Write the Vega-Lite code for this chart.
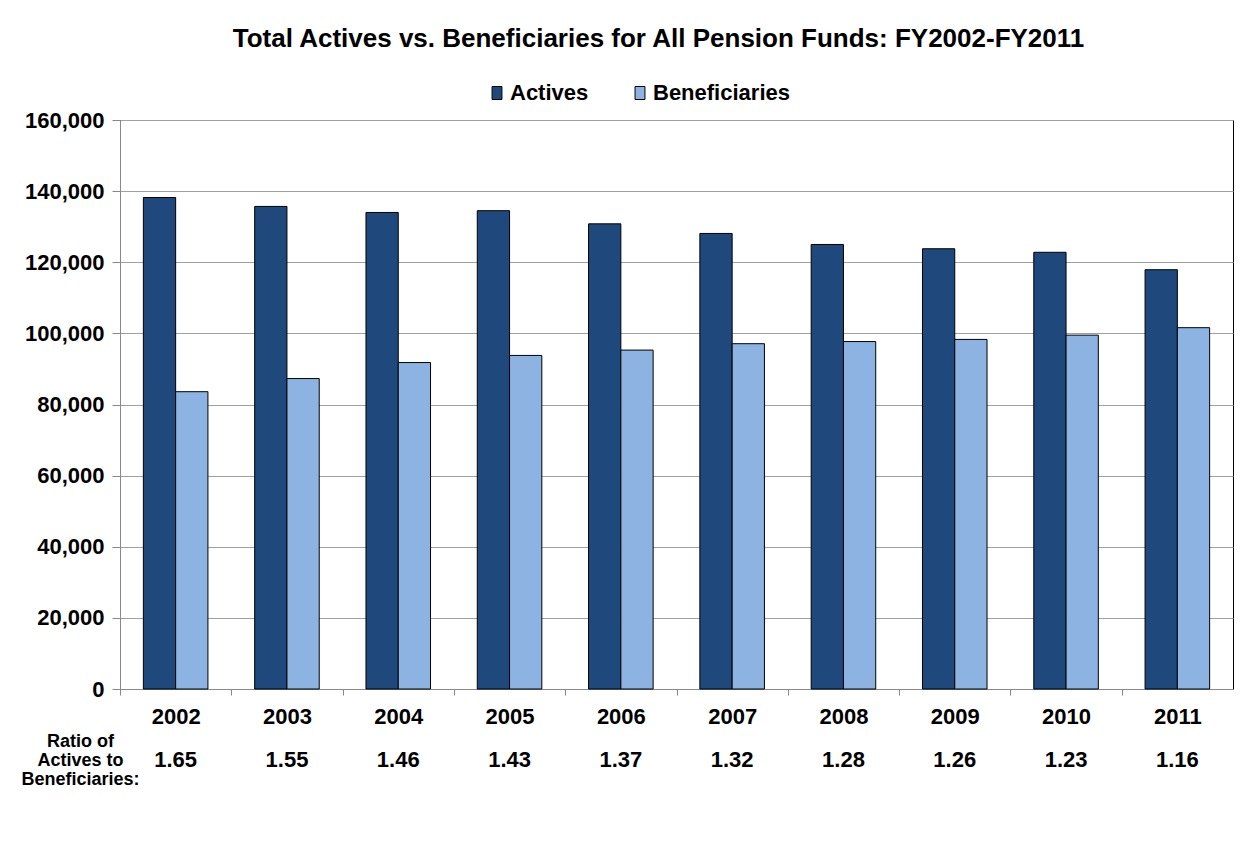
{
  "$schema": "https://vega.github.io/schema/vega-lite/v6.json",
  "width": 1113,
  "height": 569,
  "autosize": "none",
  "padding": {"left": 120, "top": 120, "right": 17, "bottom": 157},
  "background": "white",
  "title": {
    "text": "Total Actives vs. Beneficiaries for All Pension Funds: FY2002-FY2011",
    "font": "Liberation Sans",
    "fontSize": 26,
    "fontWeight": "bold",
    "color": "black",
    "anchor": "middle",
    "frame": "group",
    "dx": -18,
    "offset": 30
  },
  "config": {
    "font": "Liberation Sans",
    "view": {"stroke": "black", "strokeWidth": 1}
  },
  "layer": [
    {
      "data": {
        "values": [
          {"year": "2002", "series": "Actives", "value": 138200},
          {"year": "2002", "series": "Beneficiaries", "value": 83600},
          {"year": "2003", "series": "Actives", "value": 135700},
          {"year": "2003", "series": "Beneficiaries", "value": 87300},
          {"year": "2004", "series": "Actives", "value": 134000},
          {"year": "2004", "series": "Beneficiaries", "value": 91800},
          {"year": "2005", "series": "Actives", "value": 134500},
          {"year": "2005", "series": "Beneficiaries", "value": 93800},
          {"year": "2006", "series": "Actives", "value": 130800},
          {"year": "2006", "series": "Beneficiaries", "value": 95300},
          {"year": "2007", "series": "Actives", "value": 128100},
          {"year": "2007", "series": "Beneficiaries", "value": 97100},
          {"year": "2008", "series": "Actives", "value": 125000},
          {"year": "2008", "series": "Beneficiaries", "value": 97700},
          {"year": "2009", "series": "Actives", "value": 123800},
          {"year": "2009", "series": "Beneficiaries", "value": 98300},
          {"year": "2010", "series": "Actives", "value": 122800},
          {"year": "2010", "series": "Beneficiaries", "value": 99500},
          {"year": "2011", "series": "Actives", "value": 117900},
          {"year": "2011", "series": "Beneficiaries", "value": 101600}
        ]
      },
      "mark": {"type": "bar", "stroke": "black", "strokeWidth": 1},
      "encoding": {
        "x": {
          "field": "year",
          "type": "nominal",
          "scale": {"paddingInner": 0.42, "paddingOuter": 0.21},
          "axis": {
            "title": ["Ratio of", "Actives to", "Beneficiaries:"],
            "titleX": -40,
            "titleY": 43,
            "titleAlign": "center",
            "titleBaseline": "top",
            "titleAngle": 0,
            "titleFontSize": 18,
            "titleFontWeight": "bold",
            "titleColor": "black",
            "titleLineHeight": 19,
            "labelAngle": 0,
            "labelFontSize": 22,
            "labelFontWeight": "bold",
            "labelColor": "black",
            "labelPadding": 11,
            "tickOffset": -55.65,
            "labelOffset": 55.65,
            "tickColor": "#888888",
            "tickSize": 6,
            "domainColor": "#888888"
          }
        },
        "xOffset": {"field": "series", "type": "nominal", "sort": ["Actives", "Beneficiaries"]},
        "y": {
          "field": "value",
          "type": "quantitative",
          "scale": {"domain": [0, 160000], "nice": false},
          "axis": {
            "title": null,
            "values": [0, 20000, 40000, 60000, 80000, 100000, 120000, 140000, 160000],
            "format": ",.0f",
            "labelFontSize": 22,
            "labelFontWeight": "bold",
            "labelColor": "black",
            "labelPadding": 8,
            "tickSize": 8,
            "tickColor": "#888888",
            "domainColor": "#888888",
            "gridColor": "#a0a0a0",
            "gridWidth": 1
          }
        },
        "color": {
          "field": "series",
          "type": "nominal",
          "scale": {"domain": ["Actives", "Beneficiaries"], "range": ["#1F497D", "#8DB3E2"]},
          "legend": {
            "title": null,
            "orient": "none",
            "direction": "horizontal",
            "legendX": 366,
            "legendY": -38,
            "symbolType": "M-0.76,-1L0.76,-1L0.76,1L-0.76,1Z",
            "symbolSize": 169,
            "symbolStrokeColor": "black",
            "symbolStrokeWidth": 1,
            "labelFontSize": 22,
            "labelFontWeight": "bold",
            "labelColor": "black",
            "labelOffset": 2,
            "columnPadding": 40
          }
        }
      }
    },
    {
      "data": {
        "values": [
          {"year": "2002", "ratio": "1.65"},
          {"year": "2003", "ratio": "1.55"},
          {"year": "2004", "ratio": "1.46"},
          {"year": "2005", "ratio": "1.43"},
          {"year": "2006", "ratio": "1.37"},
          {"year": "2007", "ratio": "1.32"},
          {"year": "2008", "ratio": "1.28"},
          {"year": "2009", "ratio": "1.26"},
          {"year": "2010", "ratio": "1.23"},
          {"year": "2011", "ratio": "1.16"}
        ]
      },
      "mark": {"type": "text", "fontSize": 22, "fontWeight": "bold", "color": "black", "baseline": "middle", "clip": false},
      "encoding": {
        "x": {"field": "year", "type": "nominal"},
        "y": {"datum": -20000},
        "text": {"field": "ratio", "type": "nominal"}
      }
    }
  ]
}
